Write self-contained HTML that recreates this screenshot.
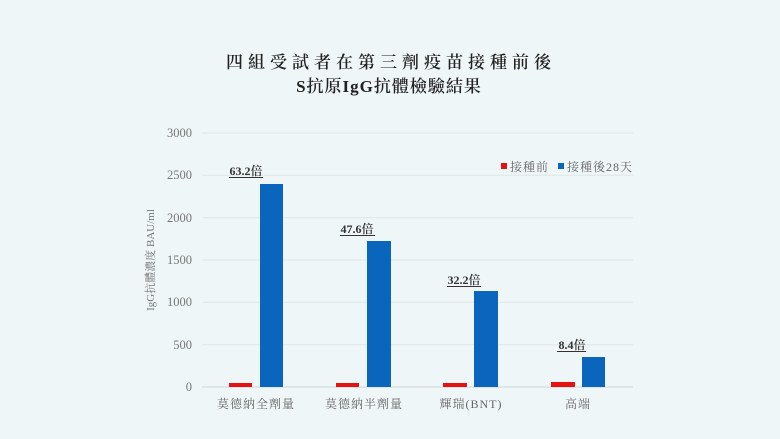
<!DOCTYPE html>
<html><head><meta charset="utf-8"><style>
html,body{margin:0;padding:0;background:#eef6f7;}
svg{display:block;}
text{font-family:"Liberation Serif","Noto Serif CJK SC",serif;}
</style></head><body>
<svg width="780" height="439" viewBox="0 0 780 439" xmlns="http://www.w3.org/2000/svg">
<rect width="780" height="439" fill="#eef6f7"/>
<text x="391" y="68" text-anchor="middle" font-size="17" font-weight="600" fill="#222" letter-spacing="5">四組受試者在第三劑疫苗接種前後</text>
<text x="389" y="92" text-anchor="middle" font-size="17" font-weight="600" fill="#222" letter-spacing="1">S抗原IgG抗體檢驗結果</text>
<g stroke="#dde6e8" stroke-width="1">
<line x1="202" x2="633" y1="133" y2="133"/>
<line x1="202" x2="633" y1="175.3" y2="175.3"/>
<line x1="202" x2="633" y1="217.7" y2="217.7"/>
<line x1="202" x2="633" y1="260" y2="260"/>
<line x1="202" x2="633" y1="302.3" y2="302.3"/>
<line x1="202" x2="633" y1="344.7" y2="344.7"/>
<line x1="202" x2="633" y1="387" y2="387" stroke="#cfd8da"/>
</g>
<g font-size="12.5" fill="#777" text-anchor="end">
<text x="192" y="137">3000</text>
<text x="192" y="179">2500</text>
<text x="192" y="222">2000</text>
<text x="192" y="264">1500</text>
<text x="192" y="306">1000</text>
<text x="192" y="349">500</text>
<text x="192" y="391">0</text>
</g>
<text transform="translate(154,260) rotate(-90)" text-anchor="middle" font-size="11" fill="#777">IgG抗體濃度 BAU/ml</text>
<g fill="#e81111">
<rect x="229" y="383" width="23" height="4"/>
<rect x="336" y="383" width="23" height="4"/>
<rect x="443" y="383" width="24" height="4"/>
<rect x="551" y="382" width="24" height="5"/>
</g>
<g fill="#0a66bd">
<rect x="260" y="184" width="23" height="203"/>
<rect x="367" y="241" width="24" height="146"/>
<rect x="474" y="291" width="24" height="96"/>
<rect x="582" y="357" width="23" height="30"/>
</g>
<g font-size="12" fill="#333" font-weight="600" text-anchor="middle">
<text x="246" y="175">63.2倍</text>
<text x="357" y="233">47.6倍</text>
<text x="464" y="284">32.2倍</text>
<text x="572" y="349">8.4倍</text>
</g>
<g stroke="#333" stroke-width="1">
<line x1="229" x2="263" y1="177.5" y2="177.5"/>
<line x1="340" x2="375" y1="235.5" y2="235.5"/>
<line x1="447" x2="481" y1="286.5" y2="286.5"/>
<line x1="557" x2="586" y1="351.5" y2="351.5"/>
</g>
<g font-size="12" fill="#666" text-anchor="middle" letter-spacing="1">
<text x="256" y="408">莫德納全劑量</text>
<text x="364" y="408">莫德納半劑量</text>
<text x="471" y="408">輝瑞(BNT)</text>
<text x="578" y="408">高端</text>
</g>
<rect x="501" y="163" width="6" height="6" fill="#e81111"/>
<text x="510" y="171" font-size="12" fill="#666" letter-spacing="1">接種前</text>
<rect x="558" y="163" width="6" height="6" fill="#0a66bd"/>
<text x="567" y="171" font-size="12" fill="#666" letter-spacing="1">接種後28天</text>
</svg>
</body></html>
